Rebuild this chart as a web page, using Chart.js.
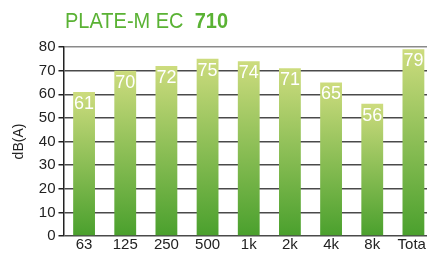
<!DOCTYPE html>
<html>
<head>
<meta charset="utf-8">
<script src="https://cdn.jsdelivr.net/npm/chart.js@4/dist/chart.umd.min.js"></script>
<style>
    html, body { margin: 0; padding: 0; background: #fff; overflow: hidden; }
    #wrap { position: relative; width: 434px; height: 259px; }
    #title {
        position: absolute; left: 65px; top: 8px;
        font-family: "Liberation Sans", Arial, sans-serif;
        font-size: 20px; color: #5ab234; white-space: pre;
        transform: scaleY(1.12); transform-origin: left top;
    }
    #title b { font-weight: bold; }
</style>
</head>
<body>
<div id="wrap">
    <canvas id="noiseChart" width="434" height="259"></canvas>
    <div id="title">PLATE-M EC  <b>710</b></div>
</div>
<script>
var bands = ['63', '125', '250', '500', '1k', '2k', '4k', '8k', 'Total'];
var levels = [61, 70, 72, 75, 74, 71, 65, 56, 79];
var yTicks = [0, 10, 20, 30, 40, 50, 60, 70, 80];

var fontFamily = '"Liberation Sans", Arial, sans-serif';

// white value label at the top of each bar
var valueLabels = {
    id: 'valueLabels',
    afterDatasetsDraw: function(chart) {
        var ctx = chart.ctx;
        var meta = chart.getDatasetMeta(0);
        ctx.save();
        ctx.fillStyle = '#ffffff';
        ctx.font = '18px ' + fontFamily;
        ctx.textAlign = 'center';
        ctx.textBaseline = 'top';
        meta.data.forEach(function(bar, i) {
            ctx.fillText(levels[i], bar.x, bar.y + 3);
        });
        ctx.restore();
    }
};

function barGradient(context) {
    var chart = context.chart;
    var yScale = chart.scales.y;
    if (!yScale || context.raw == null) return '#8cc152';
    var top = yScale.getPixelForValue(context.raw);
    var bottom = yScale.getPixelForValue(0);
    if (!isFinite(top) || !isFinite(bottom)) return '#8cc152';
    var g = chart.ctx.createLinearGradient(0, top, 0, bottom);
    g.addColorStop(0, '#cddc7e');
    g.addColorStop(1, '#4aa02d');
    return g;
}

var ctx = document.getElementById('noiseChart').getContext('2d');
var noiseChart = new Chart(ctx, {
    type: 'bar',
    data: {
        labels: bands,
        datasets: [{
            label: 'dB(A)',
            data: levels,
            backgroundColor: barGradient,
            borderWidth: 0,
            barPercentage: 0.53,
            categoryPercentage: 1.0
        }]
    },
    options: {
        responsive: false,
        animation: false,
        layout: { padding: { top: 47, left: 11, right: 0, bottom: 5 } },
        plugins: {
            legend: { display: false },
            tooltip: { enabled: false },
            title: { display: false }
        },
        scales: {
            x: {
                grid: { display: false, drawTicks: false },
                border: { display: false },
                ticks: {
                    color: '#222',
                    font: { family: fontFamily, size: 15 },
                    padding: 0,
                    maxRotation: 0
                }
            },
            y: {
                min: 0,
                max: 80,
                afterBuildTicks: function(axis) {
                    axis.ticks = yTicks.map(function(v) { return { value: v }; });
                },
                grid: {
                    color: function(c) { return c.tick && c.tick.value === 80 ? '#8a8a8a' : '#4a4a4a'; },
                    lineWidth: 1.5,
                    drawTicks: true,
                    tickLength: 5,
                    tickColor: '#222'
                },
                border: { display: true, color: '#222', width: 1.5 },
                ticks: {
                    color: '#222',
                    font: { family: fontFamily, size: 15 },
                    padding: 3
                },
                title: {
                    display: true,
                    text: 'dB(A)',
                    color: '#222',
                    font: { family: fontFamily, size: 14 },
                    padding: { top: 0, bottom: 8 }
                }
            }
        }
    },
    plugins: [valueLabels]
});
</script>
</body>
</html>
